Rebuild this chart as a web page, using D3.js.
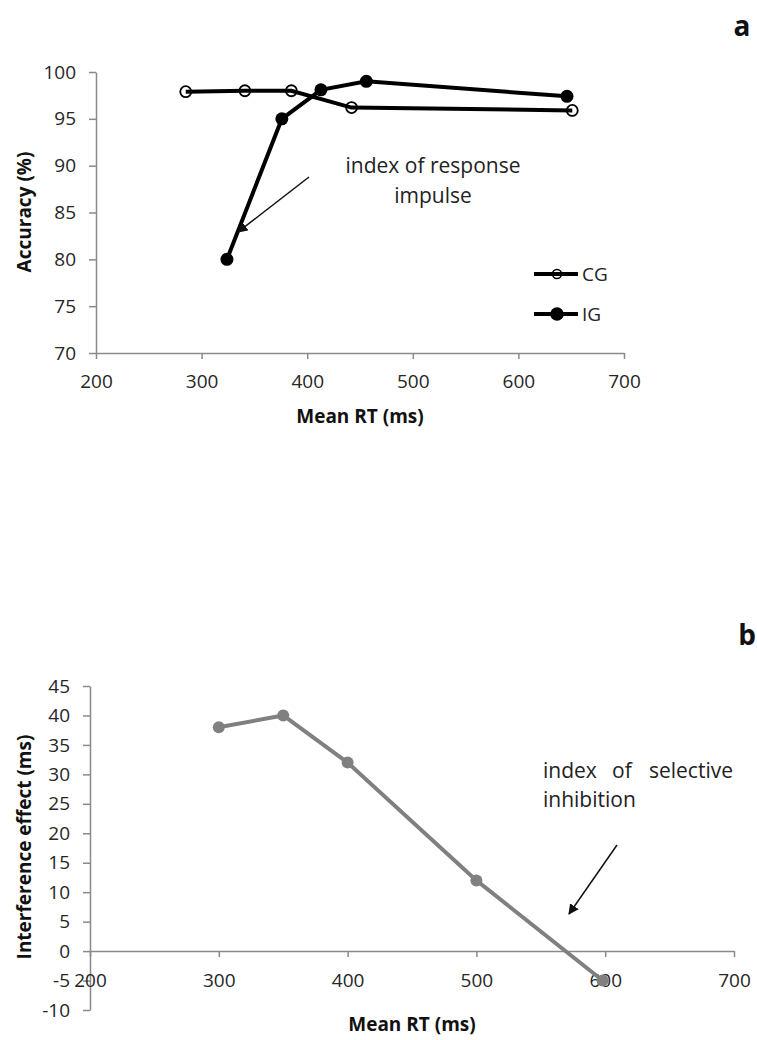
<!DOCTYPE html>
<html>
<head>
<meta charset="utf-8">
<script src="https://d3js.org/d3.v7.min.js"></script>
<style>
body { margin: 0; background: #fff; }
text { font-family: "Open Sans", sans-serif; }
.axis path, .axis line { stroke: #8a8a8a; stroke-width: 1.5px; }
.axis text { font-size: 19px; fill: #262626; }
.title { font-size: 19px; font-weight: bold; fill: #111; }
.note { font-size: 21px; fill: #222; }
.panel { font-size: 28px; font-weight: bold; fill: #111; }
</style>
</head>
<body>
<script>
// panel a: accuracy vs mean RT
var cgRT  = [285, 341, 385, 442, 651];
var cgAcc = [97.9, 98.0, 98.0, 96.2, 95.9];
var igRT  = [324, 376, 413, 456, 646];
var igAcc = [80, 95, 98.1, 99.0, 97.4];
var accTicks = [70, 75, 80, 85, 90, 95, 100];
var rtTicks = [200, 300, 400, 500, 600, 700];

// panel b: interference effect vs mean RT
var ieRT  = [300, 350, 400, 500, 598];
var ieVal = [38, 40, 32, 12, -5];
var ieTicks = [-10, -5, 0, 5, 10, 15, 20, 25, 30, 35, 40, 45];

var plain = d => String(d);   // hyphen minus like the original, not U+2212

var svg = d3.select("body").append("svg").attr("width", 757).attr("height", 1040);

svg.append("defs").append("marker")
  .attr("id", "arr").attr("viewBox", "0 0 10 10").attr("refX", 9).attr("refY", 5)
  .attr("markerWidth", 7).attr("markerHeight", 7).attr("orient", "auto")
  .append("path").attr("d", "M0,0L10,5L0,10z").attr("fill", "#111");

// ---------- panel a ----------
var xa = d3.scaleLinear().domain([200, 700]).range([96, 624]);
var ya = d3.scaleLinear().domain([70, 100]).range([353, 72]);

svg.append("g").attr("class", "axis").attr("transform", "translate(96,0)")
  .call(d3.axisLeft(ya).tickValues(accTicks).tickFormat(plain).tickSize(7).tickSizeOuter(0).tickPadding(13));
svg.append("g").attr("class", "axis").attr("transform", "translate(0,353)")
  .call(d3.axisBottom(xa).tickValues(rtTicks).tickFormat(plain).tickSize(6).tickSizeOuter(0).tickPadding(16));

svg.append("text").attr("class", "title").attr("x", 360).attr("y", 423)
  .attr("text-anchor", "middle").text("Mean RT (ms)");
svg.append("text").attr("class", "title").attr("transform", "translate(31,212) rotate(-90)")
  .attr("text-anchor", "middle").text("Accuracy (%)");

var lineA = d3.line().x(d => xa(d[0])).y(d => ya(d[1]));
var cg = d3.zip(cgRT, cgAcc), ig = d3.zip(igRT, igAcc);

svg.append("path").datum(cg).attr("d", lineA).attr("fill", "none").attr("stroke", "#000").attr("stroke-width", 4);
svg.append("path").datum(ig).attr("d", lineA).attr("fill", "none").attr("stroke", "#000").attr("stroke-width", 4);
svg.selectAll(".cg").data(cg).join("circle").attr("class", "cg")
  .attr("cx", d => xa(d[0])).attr("cy", d => ya(d[1])).attr("r", 5.5)
  .attr("fill", "none").attr("stroke", "#000").attr("stroke-width", 1.8);
svg.selectAll(".ig").data(ig).join("circle").attr("class", "ig")
  .attr("cx", d => xa(d[0])).attr("cy", d => ya(d[1])).attr("r", 6.5).attr("fill", "#000");

// legend
var leg = svg.append("g");
[["CG", false, 274], ["IG", true, 314]].forEach(function (s) {
  leg.append("line").attr("x1", 534).attr("x2", 578).attr("y1", s[2]).attr("y2", s[2])
    .attr("stroke", "#000").attr("stroke-width", 4);
  leg.append("circle").attr("cx", 557).attr("cy", s[2]).attr("r", s[1] ? 6 : 4.5)
    .attr("fill", s[1] ? "#000" : "none").attr("stroke", "#000").attr("stroke-width", 1.6);
  leg.append("text").attr("x", 582).attr("y", s[2] + 7).attr("class", "note").style("font-size", "19px").text(s[0]);
});

svg.append("text").attr("class", "note").attr("x", 433).attr("y", 173).attr("text-anchor", "middle").text("index of response");
svg.append("text").attr("class", "note").attr("x", 433).attr("y", 203).attr("text-anchor", "middle").text("impulse");
svg.append("line").attr("x1", 309).attr("y1", 177).attr("x2", 238).attr("y2", 232)
  .attr("stroke", "#111").attr("stroke-width", 1.5).attr("marker-end", "url(#arr)");
svg.append("text").attr("class", "panel").attr("x", 742).attr("y", 36).attr("text-anchor", "middle").text("a");

// ---------- panel b ----------
var xb = d3.scaleLinear().domain([200, 700]).range([90, 734]);
var yb = d3.scaleLinear().domain([-10, 45]).range([1010, 686]);

svg.append("g").attr("class", "axis").attr("transform", "translate(90,0)")
  .call(d3.axisLeft(yb).tickValues(ieTicks).tickFormat(plain).tickSize(7).tickSizeOuter(0).tickPadding(13));
svg.append("g").attr("class", "axis").attr("transform", "translate(0," + yb(0) + ")")
  .call(d3.axisBottom(xb).tickValues(rtTicks).tickFormat(plain).tickSize(6).tickSizeOuter(0).tickPadding(16));

svg.append("text").attr("class", "title").attr("x", 412).attr("y", 1031)
  .attr("text-anchor", "middle").text("Mean RT (ms)");
svg.append("text").attr("class", "title").attr("transform", "translate(31,847) rotate(-90)")
  .attr("text-anchor", "middle").text("Interference effect (ms)");

var lineB = d3.line().x(d => xb(d[0])).y(d => yb(d[1]));
var ie = d3.zip(ieRT, ieVal);
svg.append("path").datum(ie).attr("d", lineB).attr("fill", "none").attr("stroke", "#808080").attr("stroke-width", 4);
svg.selectAll(".ie").data(ie).join("circle").attr("class", "ie")
  .attr("cx", d => xb(d[0])).attr("cy", d => yb(d[1])).attr("r", 6).attr("fill", "#808080");

svg.append("text").attr("class", "note").attr("x", 543).attr("y", 778).text("index");
svg.append("text").attr("class", "note").attr("x", 612).attr("y", 778).text("of");
svg.append("text").attr("class", "note").attr("x", 733).attr("y", 778).attr("text-anchor", "end").text("selective");
svg.append("text").attr("class", "note").attr("x", 543).attr("y", 807).text("inhibition");
svg.append("line").attr("x1", 617).attr("y1", 845).attr("x2", 569).attr("y2", 914)
  .attr("stroke", "#111").attr("stroke-width", 1.5).attr("marker-end", "url(#arr)");
svg.append("text").attr("class", "panel").attr("x", 747).attr("y", 645).attr("text-anchor", "middle").text("b");
</script>
</body>
</html>
